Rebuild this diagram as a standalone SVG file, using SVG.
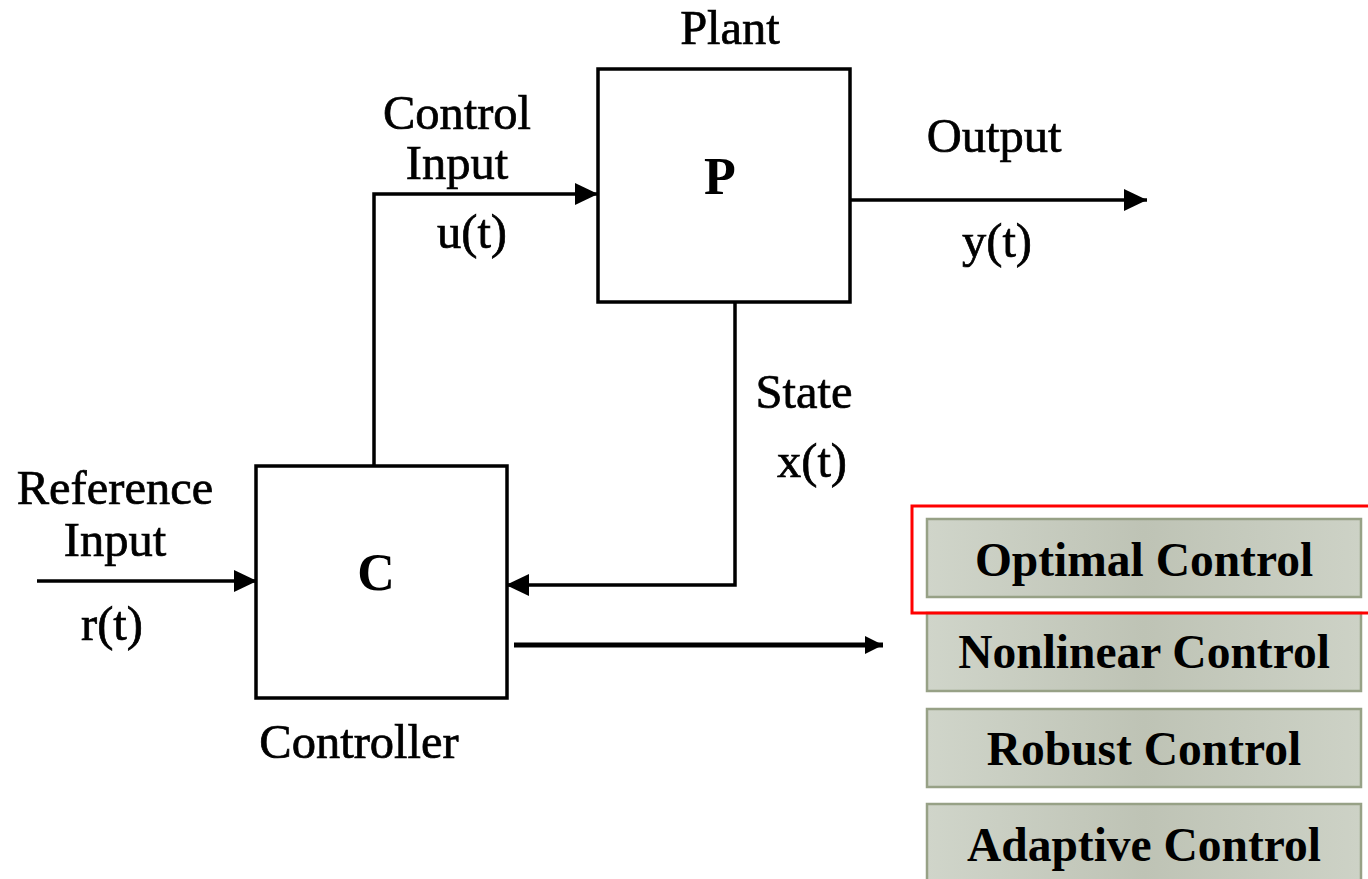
<svg xmlns="http://www.w3.org/2000/svg" width="1368" height="879" viewBox="0 0 1368 879">
<style>
.lbl{font-family:"Liberation Serif","Times New Roman",serif;font-size:48.5px;fill:#000;stroke:#000;stroke-width:0.7;text-anchor:middle}
.big{font-family:"Liberation Serif","Times New Roman",serif;font-size:52px;font-weight:bold;fill:#000;text-anchor:middle}
.item{font-family:"Liberation Serif","Times New Roman",serif;font-size:47.5px;font-weight:bold;fill:#000;text-anchor:middle}
.blk{fill:#fff;stroke:#000;stroke-width:3.5}
.wire{fill:none;stroke:#000;stroke-width:3.5}
.box{fill:url(#g);stroke:#97a186;stroke-width:2.5}
</style>
<defs>
<linearGradient id="g" x1="0" y1="0" x2="1" y2="0">
<stop offset="0" stop-color="#d0d5ca"/>
<stop offset="0.5" stop-color="#bec3b5"/>
<stop offset="1" stop-color="#cdd2c6"/>
</linearGradient>
<marker id="ah" markerUnits="userSpaceOnUse" markerWidth="23" markerHeight="22" refX="23" refY="11" orient="auto">
<path d="M0,0 L23,11 L0,22 z" fill="#000"/>
</marker>
<marker id="ahs" markerUnits="userSpaceOnUse" markerWidth="18" markerHeight="18" refX="18" refY="9" orient="auto">
<path d="M0,0 L18,9 L0,18 z" fill="#000"/>
</marker>
</defs>
<rect width="1368" height="879" fill="#fff"/>
<g id="connectors">
<path class="wire" d="M374,466 V194 H598" marker-end="url(#ah)"/>
<path class="wire" d="M850,200 H1147" marker-end="url(#ah)"/>
<path class="wire" d="M735,302 V585 H506" marker-end="url(#ah)"/>
<path class="wire" d="M37,581 H257" marker-end="url(#ah)"/>
<path fill="none" stroke="#000" stroke-width="5" d="M514,645 H883" marker-end="url(#ahs)"/>
</g>
<g id="plant">
<rect class="blk" x="598" y="69" width="252" height="233"/>
<text class="big" x="720" y="194">P</text>
<text class="lbl" x="730" y="44">Plant</text>
</g>
<g id="controller">
<rect class="blk" x="256" y="466" width="251" height="232"/>
<text class="big" x="376" y="590">C</text>
<text class="lbl" x="359" y="758">Controller</text>
</g>
<g id="labels">
<text class="lbl" x="457" y="129">Control</text>
<text class="lbl" x="457" y="179">Input</text>
<text class="lbl" x="472" y="248">u(t)</text>
<text class="lbl" x="994" y="152">Output</text>
<text class="lbl" x="997" y="257">y(t)</text>
<text class="lbl" x="804" y="408">State</text>
<text class="lbl" x="812" y="477">x(t)</text>
<text class="lbl" x="115" y="504">Reference</text>
<text class="lbl" x="115" y="556">Input</text>
<text class="lbl" x="112" y="640">r(t)</text>
</g>
<g id="optimal">
<rect class="box" x="927" y="519" width="434" height="78"/>
<text class="item" x="1144" y="576">Optimal Control</text>
</g>
<g id="nonlinear">
<rect class="box" x="927" y="613" width="434" height="78"/>
<text class="item" x="1144" y="668">Nonlinear Control</text>
</g>
<g id="robust">
<rect class="box" x="927" y="709" width="434" height="78"/>
<text class="item" x="1144" y="765">Robust Control</text>
</g>
<g id="adaptive">
<rect class="box" x="927" y="804" width="434" height="80"/>
<text class="item" x="1144" y="861">Adaptive Control</text>
</g>
<g id="highlight">
<rect x="912" y="506" width="470" height="107" fill="none" stroke="#f00" stroke-width="3"/>
</g>
</svg>
